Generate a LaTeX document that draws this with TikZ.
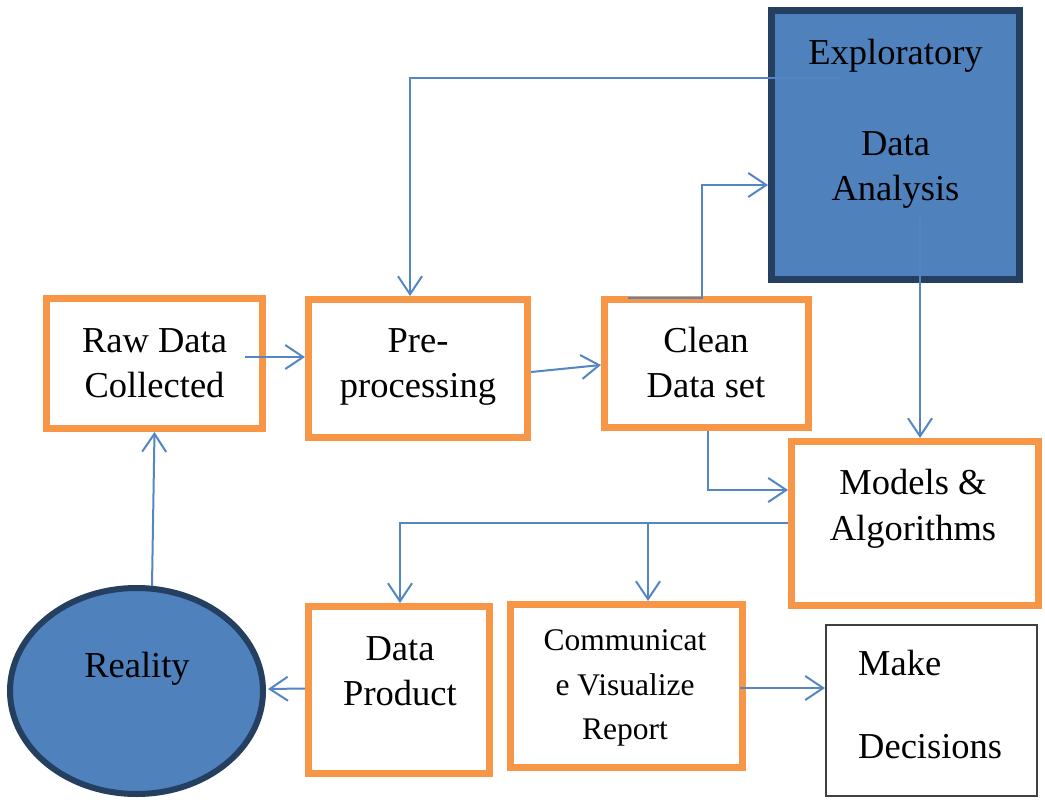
\documentclass[tikz,border=0pt]{standalone}
\usepackage{fontspec}
\setmainfont{Liberation Serif}
\usetikzlibrary{arrows.meta,shapes.geometric}
\definecolor{boxorange}{RGB}{247,150,70}
\definecolor{fillblue}{RGB}{79,129,189}
\definecolor{navy}{RGB}{36,63,96}
\definecolor{linkblue}{RGB}{84,134,196}
\tikzset{
  obox/.style={draw=boxorange, line width=7pt, fill=white, rectangle, inner sep=0pt},
  nbox/.style={draw=navy, line width=7pt, fill=fillblue, rectangle, inner sep=0pt},
  kbox/.style={draw=black!75, line width=2pt, fill=white, rectangle, inner sep=0pt},
  conn/.style={draw=linkblue, line width=2pt, -{Straight Barb[length=18pt,width=24pt]}},
  plainline/.style={draw=linkblue, line width=2pt},
  txt/.style={inner sep=0pt, anchor=base, font=\fontsize{36.5}{45}\selectfont},
  smalltxt/.style={inner sep=0pt, anchor=base, font=\fontsize{31.5}{44}\selectfont}
}
\begin{document}
\begin{tikzpicture}[x=1pt,y=-1pt]
\useasboundingbox[fill=white] (0,0) rectangle (1045,803);
% boxes
\node[obox, minimum width=216pt, minimum height=130pt] (raw) at (154.5,363.5) {};
\node[obox, minimum width=219pt, minimum height=138pt] (pre) at (418,368.5) {};
\node[obox, minimum width=204pt, minimum height=128pt] (clean) at (706.5,363.5) {};
\node[nbox, minimum width=248pt, minimum height=269pt] (eda) at (895.5,145) {};
\node[obox, minimum width=247pt, minimum height=164pt] (models) at (915,523.5) {};
\node[obox, minimum width=181pt, minimum height=167pt] (dp) at (399,690) {};
\node[obox, minimum width=232pt, minimum height=163pt] (comm) at (626.5,686) {};
\node[kbox, minimum width=211pt, minimum height=171pt] (make) at (931.5,710.5) {};
\node[ellipse, draw=navy, line width=6pt, fill=fillblue, inner sep=0pt,
      minimum width=253pt, minimum height=206pt] (reality) at (136.5,691) {};
% connectors
\coordinate (c1s) at (245,357);
\draw[conn] (c1s) -- (c1s -| pre.west);
\draw[conn] ([yshift=-3.5pt]pre.east) -- ([yshift=-1.5pt]clean.west);
\coordinate (c3s) at (628,298);
\coordinate (c3k) at (702,185);
\draw[conn] (c3s) -| (c3k) -- (c3k -| eda.west);
\coordinate (c4s) at (840,78);
\coordinate (c4k) at (410,78);
\draw[conn] (c4s) -- (c4k) -- (c4k |- pre.north);
\coordinate (c5s) at (920,218);
\draw[conn] (c5s) -- (c5s |- models.north);
\coordinate (c6k) at (708,490);
\draw[conn] (c6k |- clean.south) -- (c6k) -- (c6k -| models.west);
\coordinate (c7k) at (400,523);
\coordinate (c7b) at (648,523);
\draw[conn] (c7k -| models.west) -- (c7k) -- (c7k |- dp.north);
\draw[conn] (c7b) -- (c7b |- comm.north);
\coordinate (c8s) at (740,688);
\draw[conn] (c8s) -- (c8s -| make.west);
\draw[conn] ([yshift=1.5pt]dp.west) -- ([shift={(2pt,2pt)}]reality.east);
\coordinate (c10s) at (152,586);
\draw[conn] (c10s) -- (raw.south);
% texts
\node[txt] (rawa) at (154.5,352) {Raw Data};
\node[txt] (rawb) at (154.5,397) {Collected};
\node[txt] (prea) at (418,352) {Pre-};
\node[txt] (preb) at (418,397) {processing};
\node[txt] (cleana) at (706,352) {Clean};
\node[txt] (cleanb) at (706,397) {Data set};
\node[txt] (edaa) at (895.5,64) {Exploratory};
\node[txt] (edab) at (895.5,155) {Data};
\node[txt] (edac) at (895.5,200) {Analysis};
\node[txt] (modelsa) at (913,494) {Models \&};
\node[txt] (modelsb) at (913,540) {Algorithms};
\node[txt] (dpa) at (400,660) {Data};
\node[txt] (dpb) at (400,705) {Product};
\node[smalltxt] (comma) at (625,650) {Communicat};
\node[smalltxt] (commb) at (625,695) {e Visualize};
\node[smalltxt] (commc) at (625,739) {Report};
\node[txt, anchor=base west] (makea) at (858,675) {Make};
\node[txt, anchor=base west] (makeb) at (858,758) {Decisions};
\node[txt] (realitya) at (137,677) {Reality};
\end{tikzpicture}
\end{document}
